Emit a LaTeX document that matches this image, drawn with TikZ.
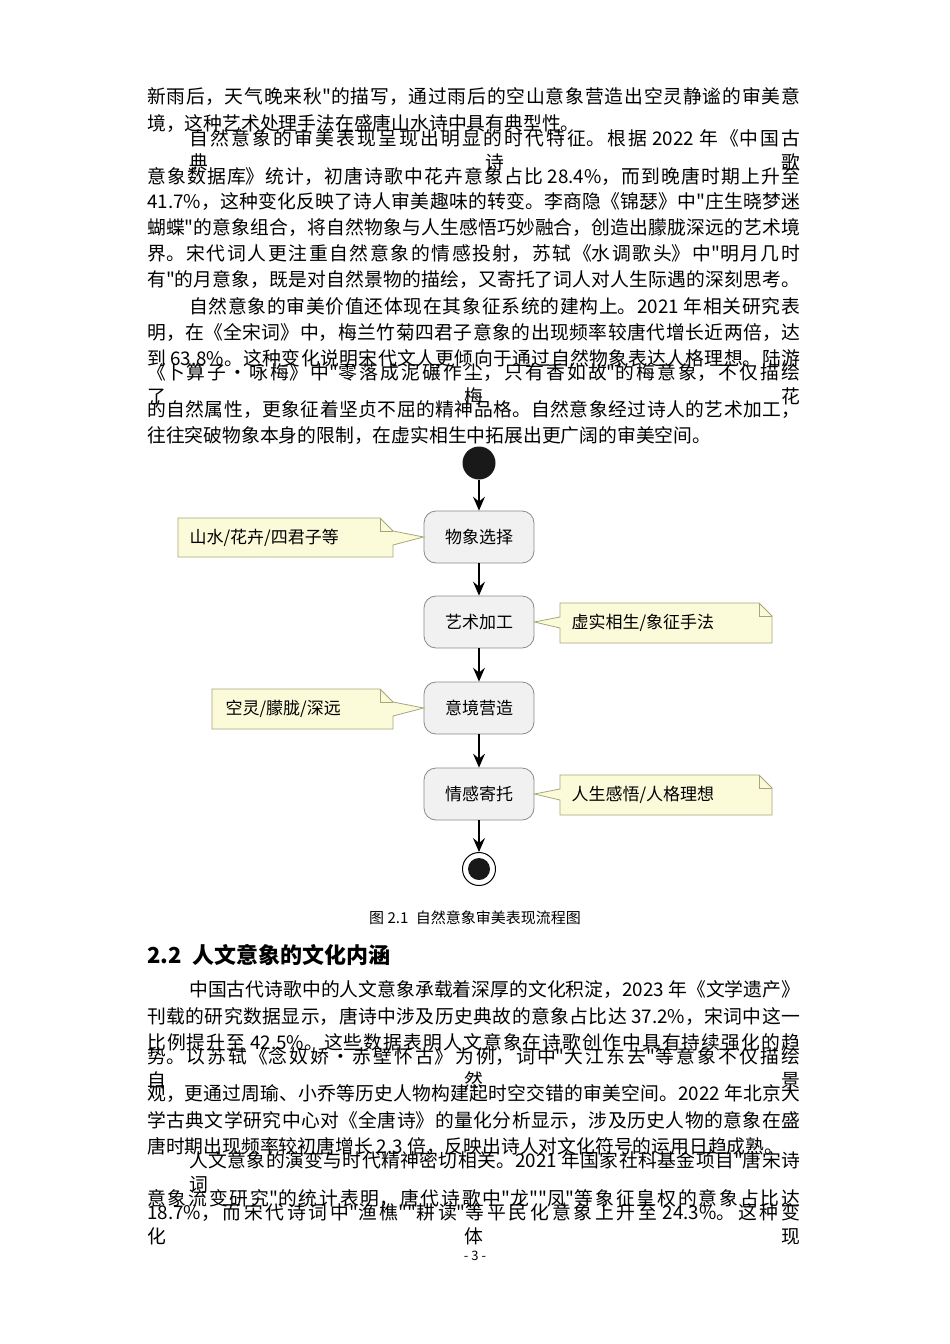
\documentclass[tikz,border=0pt]{standalone}
\usepackage{fontspec}
\setmainfont[Mapping=]{Noto Sans CJK SC}
\usetikzlibrary{positioning,arrows.meta}
\XeTeXlinebreaklocale "zh"
\XeTeXlinebreakskip=0pt plus 4pt
\definecolor{boxfill}{HTML}{F1F1F1}
\definecolor{boxline}{HTML}{8A8A8A}
\definecolor{notefill}{HTML}{FBFBD9}
\definecolor{noteline}{HTML}{A6A67A}
\newcommand{\q}{\char34\relax}
\newcommand{\fulline}[1]{\parbox{653pt}{\tolerance=10000\parindent=0pt\parfillskip=0pt #1}}
\newcommand{\firstline}[1]{\parbox{611pt}{\tolerance=10000\parindent=0pt\parfillskip=0pt #1}}
\tikzset{
  txt/.style={anchor=west,inner sep=0pt,font=\fontsize{18.8}{24}\selectfont},
  activity/.style={draw=boxline,fill=boxfill,rounded corners=12pt,minimum width=110pt,
    minimum height=52pt,font=\fontsize{17}{20}\selectfont,line width=0.8pt},
  flow/.style={-{Stealth[length=14pt,width=12pt,inset=5pt]},line width=1.1pt},
  notebox/.style={draw=noteline,fill=notefill,line width=0.8pt}
}
\begin{document}
\begin{tikzpicture}[x=1pt,y=-1pt]
  \useasboundingbox (0,0) rectangle (950,1344);
  \fill[white] (0,0) rectangle (950,1344);
  % text above the figure
  \node[txt] (l1) at (147,97) {\fulline{新雨后，天气晚来秋\q 的描写，通过雨后的空山意象营造出空灵静谧的审美意}};
  \node[txt] (l2) at (147,123) {境，这种艺术处理手法在盛唐山水诗中具有典型性。};
  \node[txt] (l3) at (189,150) {\firstline{自然意象的审美表现呈现出明显的时代特征。根据 2022 年《中国古典诗歌}};
  \node[txt] (l4) at (147,176) {\fulline{意象数据库》统计，初唐诗歌中花卉意象占比 28.4\%，而到晚唐时期上升至}};
  \node[txt] (l5) at (147,202) {\fulline{41.7\%，这种变化反映了诗人审美趣味的转变。李商隐《锦瑟》中\q 庄生晓梦迷}};
  \node[txt] (l6) at (147,228) {\fulline{蝴蝶\q 的意象组合，将自然物象与人生感悟巧妙融合，创造出朦胧深远的艺术境}};
  \node[txt] (l7) at (147,254) {\fulline{界。宋代词人更注重自然意象的情感投射，苏轼《水调歌头》中\q 明月几时}};
  \node[txt] (l8) at (147,280) {\fulline{有\q 的月意象，既是对自然景物的描绘，又寄托了词人对人生际遇的深刻思考。}};
  \node[txt] (l9) at (189,306) {\firstline{自然意象的审美价值还体现在其象征系统的建构上。2021 年相关研究表}};
  \node[txt] (l10) at (147,332) {\fulline{明，在《全宋词》中，梅兰竹菊四君子意象的出现频率较唐代增长近两倍，达}};
  \node[txt] (l11) at (147,358) {\fulline{到 63.8\%。这种变化说明宋代文人更倾向于通过自然物象表达人格理想。陆游}};
  \node[txt] (l12) at (147,384) {\fulline{《卜算子·咏梅》中\q 零落成泥碾作尘，只有香如故\q 的梅意象，不仅描绘了梅花}};
  \node[txt] (l13) at (147,410) {\fulline{的自然属性，更象征着坚贞不屈的精神品格。自然意象经过诗人的艺术加工，}};
  \node[txt] (l14) at (147,436) {往往突破物象本身的限制，在虚实相生中拓展出更广阔的审美空间。};
  % flow chart
  \node[circle,fill=black!90,minimum size=33pt,inner sep=0pt] (start) at (479,463) {};
  \node[activity] (select) at (479,537) {物象选择};
  \node[activity] (craft) at (479,622) {艺术加工};
  \node[activity] (mood) at (479,708) {意境营造};
  \node[activity] (feel) at (479,794) {情感寄托};
  \node[circle,draw=black,line width=1pt,minimum size=33pt,inner sep=0pt] (stop) at (479,869) {};
  \fill[black!90] (stop) circle (11pt);
  \draw[flow] (start) -- (select);
  \draw[flow] (select) -- (craft);
  \draw[flow] (craft) -- (mood);
  \draw[flow] (mood) -- (feel);
  \draw[flow] (feel) -- (stop);
  % notes
  \draw[notebox] (178,518) -- (380,518) -- (393,531) -- (select.west) -- (393,545)
    -- (393,557) -- (178,557) -- cycle;
  \draw[noteline,line width=0.8pt] (380,518) -- (380,531) -- (393,531);
  \node[anchor=west,font=\fontsize{17}{20}\selectfont] (n1) at (186,538) {山水/花卉/四君子等};
  \draw[notebox] (560,603) -- (759,603) -- (772,616) -- (772,643) -- (560,643)
    -- (560,628) -- (craft.east) -- (560,617) -- cycle;
  \draw[noteline,line width=0.8pt] (759,603) -- (759,616) -- (772,616);
  \node[anchor=west,font=\fontsize{17}{20}\selectfont] (n2) at (568,623) {虚实相生/象征手法};
  \draw[notebox] (212,689) -- (380,689) -- (393,702) -- (mood.west) -- (393,716)
    -- (393,729) -- (212,729) -- cycle;
  \draw[noteline,line width=0.8pt] (380,689) -- (380,702) -- (393,702);
  \node[anchor=west,font=\fontsize{17}{20}\selectfont] (n3) at (222,709) {空灵/朦胧/深远};
  \draw[notebox] (560,775) -- (759,775) -- (772,788) -- (772,815) -- (560,815)
    -- (560,800) -- (feel.east) -- (560,789) -- cycle;
  \draw[noteline,line width=0.8pt] (759,775) -- (759,788) -- (772,788);
  \node[anchor=west,font=\fontsize{17}{20}\selectfont] (n4) at (568,795) {人生感悟/人格理想};
  % caption, heading and text below
  \node[font=\fontsize{15}{18}\selectfont] (cap) at (475,918) {图 2.1\enspace 自然意象审美表现流程图};
  \node[txt,font=\fontsize{22}{26}\selectfont\bfseries] (head) at (147,955) {2.2\enspace 人文意象的文化内涵};
  \node[txt] (m1) at (189,990) {\firstline{中国古代诗歌中的人文意象承载着深厚的文化积淀，2023 年《文学遗产》}};
  \node[txt] (m2) at (147,1016) {\fulline{刊载的研究数据显示，唐诗中涉及历史典故的意象占比达 37.2\%，宋词中这一}};
  \node[txt] (m3) at (147,1042) {\fulline{比例提升至 42.5\%。这些数据表明人文意象在诗歌创作中具有持续强化的趋}};
  \node[txt] (m4) at (147,1068) {\fulline{势。以苏轼《念奴娇·赤壁怀古》为例，词中\q 大江东去\q 等意象不仅描绘自然景}};
  \node[txt] (m5) at (147,1094) {\fulline{观，更通过周瑜、小乔等历史人物构建起时空交错的审美空间。2022 年北京大}};
  \node[txt] (m6) at (147,1120) {\fulline{学古典文学研究中心对《全唐诗》的量化分析显示，涉及历史人物的意象在盛}};
  \node[txt] (m7) at (147,1146) {唐时期出现频率较初唐增长 2.3 倍，反映出诗人对文化符号的运用日趋成熟。};
  \node[txt] (m8) at (189,1172) {\firstline{人文意象的演变与时代精神密切相关。2021 年国家社科基金项目\q 唐宋诗词}};
  \node[txt] (m9) at (147,1198) {\fulline{意象流变研究\q 的统计表明，唐代诗歌中\q 龙\q\q 凤\q 等象征皇权的意象占比达}};
  \node[txt] (m10) at (147,1224) {\fulline{18.7\%，而宋代诗词中\q 渔樵\q\q 耕读\q 等平民化意象上升至 24.3\%。这种变化体现}};
  \node[font=\fontsize{13}{16}\selectfont] (page) at (475,1256) {- 3 -};
\end{tikzpicture}
\end{document}
